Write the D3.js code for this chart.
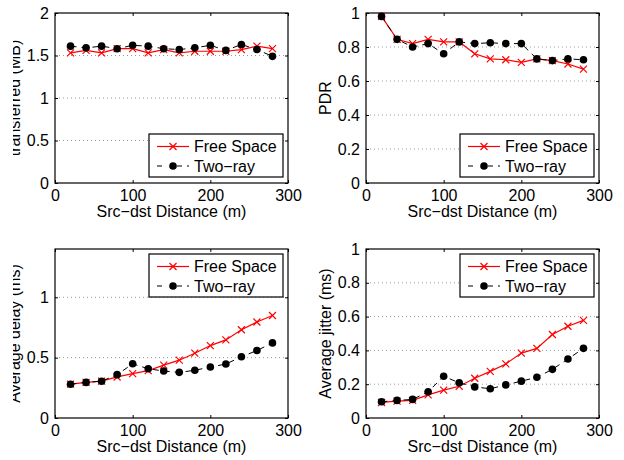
<!DOCTYPE html>
<html>
<head>
<meta charset="utf-8">
<script src="https://cdn.jsdelivr.net/npm/d3@7"></script>
<style>
  body { margin: 0; background: #fff; }
  text { font-family: "Liberation Sans", Arial, Helvetica, sans-serif; }
</style>
</head>
<body>
<div id="chart"></div>
<script>
// distances shared by all four panels
var distance = [20, 40, 60, 80, 100, 120, 140, 160, 180, 200, 220, 240, 260, 280];
var xTicks = [0, 100, 200, 300];
var seriesNames = ["Free Space", "Two\u2212ray"];

// data transferred (MB)
var transferFree = [1.53, 1.56, 1.53, 1.58, 1.58, 1.53, 1.57, 1.53, 1.55, 1.55, 1.55, 1.57, 1.61, 1.58];
var transferTwo  = [1.61, 1.59, 1.61, 1.58, 1.62, 1.61, 1.58, 1.57, 1.59, 1.62, 1.56, 1.63, 1.57, 1.49];
var transferTicks = [0, 0.5, 1, 1.5, 2];

// PDR
var pdrFree = [0.98, 0.845, 0.82, 0.845, 0.83, 0.83, 0.76, 0.73, 0.725, 0.71, 0.73, 0.72, 0.70, 0.67];
var pdrTwo  = [0.98, 0.845, 0.80, 0.82, 0.76, 0.83, 0.82, 0.825, 0.82, 0.82, 0.73, 0.72, 0.73, 0.725];
var pdrTicks = [0, 0.2, 0.4, 0.6, 0.8, 1];

// average delay (ms)
var delayFree = [0.28, 0.295, 0.305, 0.34, 0.367, 0.392, 0.438, 0.479, 0.537, 0.60, 0.647, 0.731, 0.795, 0.849];
var delayTwo  = [0.28, 0.295, 0.305, 0.359, 0.449, 0.408, 0.389, 0.378, 0.395, 0.422, 0.447, 0.507, 0.559, 0.622];
var delayTicks = [0, 0.5, 1];

// average jitter (ms)
var jitterFree = [0.092, 0.10, 0.104, 0.137, 0.165, 0.188, 0.235, 0.276, 0.32, 0.384, 0.412, 0.494, 0.543, 0.578];
var jitterTwo  = [0.096, 0.104, 0.11, 0.155, 0.247, 0.208, 0.184, 0.173, 0.196, 0.218, 0.241, 0.288, 0.349, 0.412];
var jitterTicks = [0, 0.2, 0.4, 0.6, 0.8, 1];

var svg = d3.select("#chart")
  .append("svg")
    .attr("width", 624)
    .attr("height", 460);

svg.append("rect").attr("width", 624).attr("height", 460).attr("fill", "#fff");

// the left column labels are cut at the figure edge
svg.append("defs").append("clipPath").attr("id", "edge")
  .append("rect").attr("x", 13).attr("y", 0).attr("width", 611).attr("height", 460);

var panels = [
  {left: 55, top: 13, w: 233, h: 170, yMax: 2, ticks: transferTicks, free: transferFree, two: transferTwo,
   label: "transferred (MB)", legend: "bottom", clip: true},
  {left: 366, top: 13, w: 233, h: 170, yMax: 1, ticks: pdrTicks, free: pdrFree, two: pdrTwo,
   label: "PDR", legend: "bottom", clip: false},
  {left: 55, top: 249, w: 233, h: 169, yMax: 1.4, ticks: delayTicks, free: delayFree, two: delayTwo,
   label: "Average delay (ms)", legend: "top", clip: true},
  {left: 366, top: 249, w: 233, h: 169, yMax: 1, ticks: jitterTicks, free: jitterFree, two: jitterTwo,
   label: "Average jitter (ms)", legend: "top", clip: false}
];

function drawCross(g, x, y, s, color) {
  g.append("path")
    .attr("d", "M" + (x - s) + "," + (y - s) + "L" + (x + s) + "," + (y + s) +
               "M" + (x - s) + "," + (y + s) + "L" + (x + s) + "," + (y - s))
    .attr("stroke", color).attr("stroke-width", 1.2).attr("fill", "none");
}

panels.forEach(function (p) {
  var g = svg.append("g").attr("transform", "translate(" + p.left + "," + p.top + ")");

  var x = d3.scaleLinear().domain([0, 300]).range([0, p.w]);
  var y = d3.scaleLinear().domain([0, p.yMax]).range([p.h, 0]);

  // dotted horizontal grid
  g.append("g").selectAll("line")
    .data(p.ticks.filter(function (t) { return t > 0 && t < p.yMax; }))
    .enter().append("line")
      .attr("x1", 0).attr("x2", p.w)
      .attr("y1", function (d) { return y(d); })
      .attr("y2", function (d) { return y(d); })
      .attr("stroke", "#9a9a9a").attr("stroke-dasharray", "1,3");

  // axes, ticks inward
  var fmt = function (d) { return d3.format("")(d); };
  var ax = g.append("g").attr("transform", "translate(0," + p.h + ")")
    .call(d3.axisBottom(x).tickValues(xTicks).tickSizeInner(-3).tickSizeOuter(0).tickPadding(6).tickFormat(fmt));
  var axTop = g.append("g")
    .call(d3.axisTop(x).tickValues(xTicks).tickSizeInner(-3).tickSizeOuter(0).tickFormat(""));
  var ay = g.append("g")
    .call(d3.axisLeft(y).tickValues(p.ticks).tickSizeInner(-3).tickSizeOuter(0).tickPadding(6).tickFormat(fmt));
  var ayRight = g.append("g").attr("transform", "translate(" + p.w + ",0)")
    .call(d3.axisRight(y).tickValues(p.ticks).tickSizeInner(-3).tickSizeOuter(0).tickFormat(""));

  [ax, axTop, ay, ayRight].forEach(function (a) {
    a.select(".domain").remove();
    a.selectAll("line").attr("stroke", "#000");
    a.selectAll("text").attr("font-size", 16).attr("fill", "#000");
  });
  ax.selectAll("text").attr("dy", "0.72em");

  g.append("rect").attr("width", p.w).attr("height", p.h)
    .attr("fill", "none").attr("stroke", "#000").attr("stroke-width", 1.2);

  // Free Space: red solid with crosses
  var line = d3.line().x(function (d, i) { return x(distance[i]); }).y(function (d) { return y(d); });
  g.append("path").datum(p.free).attr("d", line)
    .attr("fill", "none").attr("stroke", "#ff0000").attr("stroke-width", 1.2);
  p.free.forEach(function (v, i) { drawCross(g, x(distance[i]), y(v), 3.5, "#ff0000"); });

  // Two-ray: black dashed with dots
  g.append("path").datum(p.two).attr("d", line)
    .attr("fill", "none").attr("stroke", "#000").attr("stroke-width", 1)
    .attr("stroke-dasharray", "6,5");
  g.append("g").selectAll("circle").data(p.two).enter().append("circle")
    .attr("cx", function (d, i) { return x(distance[i]); })
    .attr("cy", function (d) { return y(d); })
    .attr("r", 3.8).attr("fill", "#000");

  // x label
  g.append("text")
    .attr("x", p.w / 2).attr("y", p.h + 34)
    .attr("text-anchor", "middle").attr("font-size", 16)
    .text("Src\u2212dst Distance (m)");

  // y label
  var lab = svg.append("g");
  if (p.clip) lab.attr("clip-path", "url(#edge)");
  lab.append("text")
    .attr("transform", "translate(" + (p.left - 35) + "," + (p.top + p.h / 2) + ") rotate(-90)")
    .attr("text-anchor", "middle").attr("font-size", 16)
    .text(p.label);

  // legend
  var lw = 134, lh = 43;
  var lx = p.w - 5 - lw;
  var ly = p.legend === "top" ? 5 : p.h - 6 - lh;
  var leg = g.append("g").attr("transform", "translate(" + lx + "," + ly + ")");
  leg.append("rect").attr("width", lw).attr("height", lh)
    .attr("fill", "#fff").attr("stroke", "#000").attr("stroke-width", 1.2);
  // row 1
  leg.append("line").attr("x1", 8).attr("x2", 40).attr("y1", 12.5).attr("y2", 12.5)
    .attr("stroke", "#ff0000").attr("stroke-width", 1.2);
  drawCross(leg, 24, 12.5, 3.5, "#ff0000");
  leg.append("text").attr("x", 45).attr("y", 18).attr("font-size", 16).text(seriesNames[0]);
  // row 2
  leg.append("line").attr("x1", 8).attr("x2", 40).attr("y1", 32).attr("y2", 32)
    .attr("stroke", "#000").attr("stroke-width", 1).attr("stroke-dasharray", "5,7,0,8,5");
  leg.append("circle").attr("cx", 24).attr("cy", 32).attr("r", 3.8).attr("fill", "#000");
  leg.append("text").attr("x", 45).attr("y", 37.5).attr("font-size", 16).text(seriesNames[1]);
});
</script>
</body>
</html>
